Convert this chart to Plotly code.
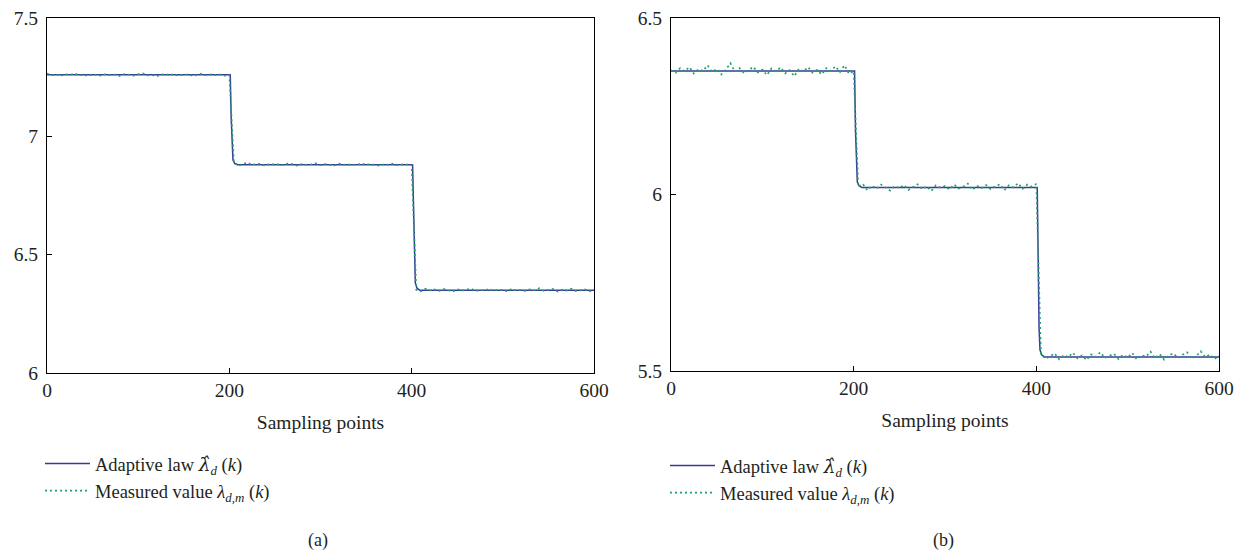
import plotly.graph_objects as go

# ---------------- data ----------------
sample_step = 5
# Panel (a)
ada_a_x = [0, 201, 202, 203, 204, 206, 209, 401, 402, 403, 404, 406, 409, 600]
ada_a_y = [7.26, 7.26, 7.08, 6.95, 6.90, 6.885, 6.88, 6.88, 6.66, 6.46, 6.38, 6.357, 6.35, 6.35]
meas_a_y = [
    7.265, 7.258, 7.262, 7.255, 7.263, 7.259, 7.266, 7.257, 7.261, 7.254,
    7.262, 7.260, 7.256, 7.264, 7.258, 7.261, 7.255, 7.263, 7.259, 7.257,
    7.262, 7.266, 7.258, 7.260, 7.253, 7.262, 7.259, 7.264, 7.256, 7.261,
    7.258, 7.263, 7.255, 7.260, 7.265, 7.257, 7.262, 7.259, 7.261, 7.256,
    7.260, 6.890, 6.875, 6.884, 6.889, 6.878, 6.886, 6.881, 6.876, 6.885,
    6.879, 6.883, 6.877, 6.887, 6.880, 6.875, 6.884, 6.879, 6.882, 6.886,
    6.878, 6.883, 6.880, 6.876, 6.885, 6.879, 6.882, 6.877, 6.884, 6.880,
    6.886, 6.878, 6.881, 6.875, 6.883, 6.879, 6.885, 6.877, 6.882, 6.880,
    6.879, 6.352, 6.345, 6.356, 6.349, 6.353, 6.346, 6.355, 6.350, 6.344,
    6.354, 6.348, 6.352, 6.357, 6.346, 6.351, 6.349, 6.355, 6.347, 6.353,
    6.350, 6.345, 6.356, 6.348, 6.352, 6.346, 6.354, 6.349, 6.358, 6.347,
    6.351, 6.355, 6.344, 6.352, 6.348, 6.356, 6.346, 6.350, 6.353, 6.345,
    6.351,
]
# Panel (b)
ada_b_x = [0, 201, 202, 203, 204, 206, 209, 401, 402, 403, 404, 406, 409, 600]
ada_b_y = [6.35, 6.35, 6.18, 6.07, 6.035, 6.024, 6.02, 6.02, 5.80, 5.62, 5.56, 5.545, 5.54, 5.54]
meas_b_y = [
    6.352, 6.345, 6.358, 6.349, 6.361, 6.343, 6.355, 6.350, 6.366, 6.347,
    6.356, 6.340, 6.353, 6.372, 6.348, 6.358, 6.344, 6.351, 6.362, 6.346,
    6.354, 6.338, 6.357, 6.349, 6.360, 6.343, 6.352, 6.335, 6.356, 6.348,
    6.361, 6.345, 6.353, 6.340, 6.358, 6.350, 6.363, 6.347, 6.366, 6.342,
    6.350, 6.022, 6.030, 6.012, 6.025, 6.016, 6.028, 6.019, 6.011, 6.024,
    6.018, 6.027, 6.013, 6.021, 6.029, 6.015, 6.023, 6.010, 6.026, 6.019,
    6.024, 6.014, 6.028, 6.017, 6.022, 6.031, 6.013, 6.025, 6.018, 6.027,
    6.015, 6.023, 6.029, 6.012, 6.026, 6.020, 6.032, 6.016, 6.028, 6.022,
    6.030, 5.548, 5.535, 5.542, 5.550, 5.533, 5.545, 5.539, 5.552, 5.536,
    5.544, 5.531, 5.547, 5.540, 5.553, 5.537, 5.543, 5.549, 5.534, 5.546,
    5.538, 5.551, 5.533, 5.545, 5.541, 5.555, 5.536, 5.548, 5.532, 5.544,
    5.550, 5.537, 5.546, 5.553, 5.535, 5.542, 5.556, 5.539, 5.547, 5.534,
    5.543,
]
meas_x = [i * sample_step for i in range(len(meas_a_y))]

x_ticks = [0, 200, 400, 600]
y_ticks_a = [6, 6.5, 7, 7.5]
y_ticks_a_text = ["6", "6.5", "7", "7.5"]
y_ticks_b = [5.5, 6, 6.5]
y_ticks_b_text = ["5.5", "6", "6.5"]

LAM_HAT = "<span style='font-family:DejaVu Serif'><i>λ\u0302</i></span>"
name_ada = "Adaptive law " + LAM_HAT + "<sub><i>d</i></sub> (<i>k</i>)"
name_meas = "Measured value <i>λ</i><sub><i>d,m</i></sub> (<i>k</i>)"

# ---------------- styles ----------------
FONT = "Liberation Serif"
TXT = "#231f20"
BLUE = "#3a3a9c"
GREEN = "#1fa463"
W, H = 1242, 552
FS = 19.5

def px(x):
    return x / W

def py(y):
    return 1 - y / H

fig = go.Figure()
fig.add_trace(go.Scatter(x=ada_a_x, y=ada_a_y, mode="lines", name=name_ada,
                         line=dict(color=BLUE, width=1.5), xaxis="x", yaxis="y", legend="legend"))
fig.add_trace(go.Scatter(x=meas_x, y=meas_a_y, mode="lines", name=name_meas,
                         line=dict(color=GREEN, width=1.7, dash="2px,3px"), xaxis="x", yaxis="y", legend="legend"))
fig.add_trace(go.Scatter(x=ada_b_x, y=ada_b_y, mode="lines", name=name_ada,
                         line=dict(color=BLUE, width=1.5), xaxis="x2", yaxis="y2", legend="legend2"))
fig.add_trace(go.Scatter(x=meas_x, y=meas_b_y, mode="lines", name=name_meas,
                         line=dict(color=GREEN, width=1.7, dash="2px,3px"), xaxis="x2", yaxis="y2", legend="legend2"))

def xax(domain, anchor):
    return dict(domain=domain, anchor=anchor, range=[0, 600], tickvals=x_ticks, automargin=False,
                ticks="inside", ticklen=5, tickcolor="black", showline=True, linecolor="black",
                linewidth=1, mirror=True, showgrid=False, zeroline=False, ticklabeloverflow="allow",
                tickfont=dict(family=FONT, size=FS, color=TXT),
                title=dict(text="Sampling points", font=dict(family=FONT, size=FS, color=TXT), standoff=14))

def yax(domain, anchor, rng, tv, tt):
    return dict(domain=domain, anchor=anchor, range=rng, tickvals=tv, ticktext=tt, automargin=False,
                ticks="inside", ticklen=5, tickcolor="black", showline=True, linecolor="black",
                linewidth=1, mirror=True, showgrid=False, zeroline=False, ticklabelstandoff=4,
                ticklabeloverflow="allow",
                tickfont=dict(family=FONT, size=FS, color=TXT))

fig.update_layout(
    width=W, height=H, margin=dict(l=0, r=0, t=0, b=0, autoexpand=False),
    plot_bgcolor="white", paper_bgcolor="white",
    xaxis=xax([px(47), px(594)], "y"),
    yaxis=yax([py(373), py(18)], "x", [6, 7.5], y_ticks_a, y_ticks_a_text),
    xaxis2=xax([px(671), px(1219)], "y2"),
    yaxis2=yax([py(371), py(18)], "x2", [5.5, 6.5], y_ticks_b, y_ticks_b_text),
    legend=dict(x=px(40), y=py(445), xanchor="left", yanchor="top", bgcolor="rgba(0,0,0,0)",
                font=dict(family=FONT, size=18.5, color=TXT), tracegroupgap=0, itemwidth=45),
    legend2=dict(x=px(665), y=py(447), xanchor="left", yanchor="top", bgcolor="rgba(0,0,0,0)",
                 font=dict(family=FONT, size=18.5, color=TXT), tracegroupgap=0, itemwidth=45),
    annotations=[
        dict(text="(a)", x=px(318), y=py(540), xref="paper", yref="paper", showarrow=False,
             xanchor="center", yanchor="middle", font=dict(family=FONT, size=18, color=TXT)),
        dict(text="(b)", x=px(943), y=py(540), xref="paper", yref="paper", showarrow=False,
             xanchor="center", yanchor="middle", font=dict(family=FONT, size=18, color=TXT)),
    ],
)

fig.write_html("out.html", config={"displayModeBar": False},
               post_script="document.body.style.margin='0';document.body.style.overflow='hidden';")
